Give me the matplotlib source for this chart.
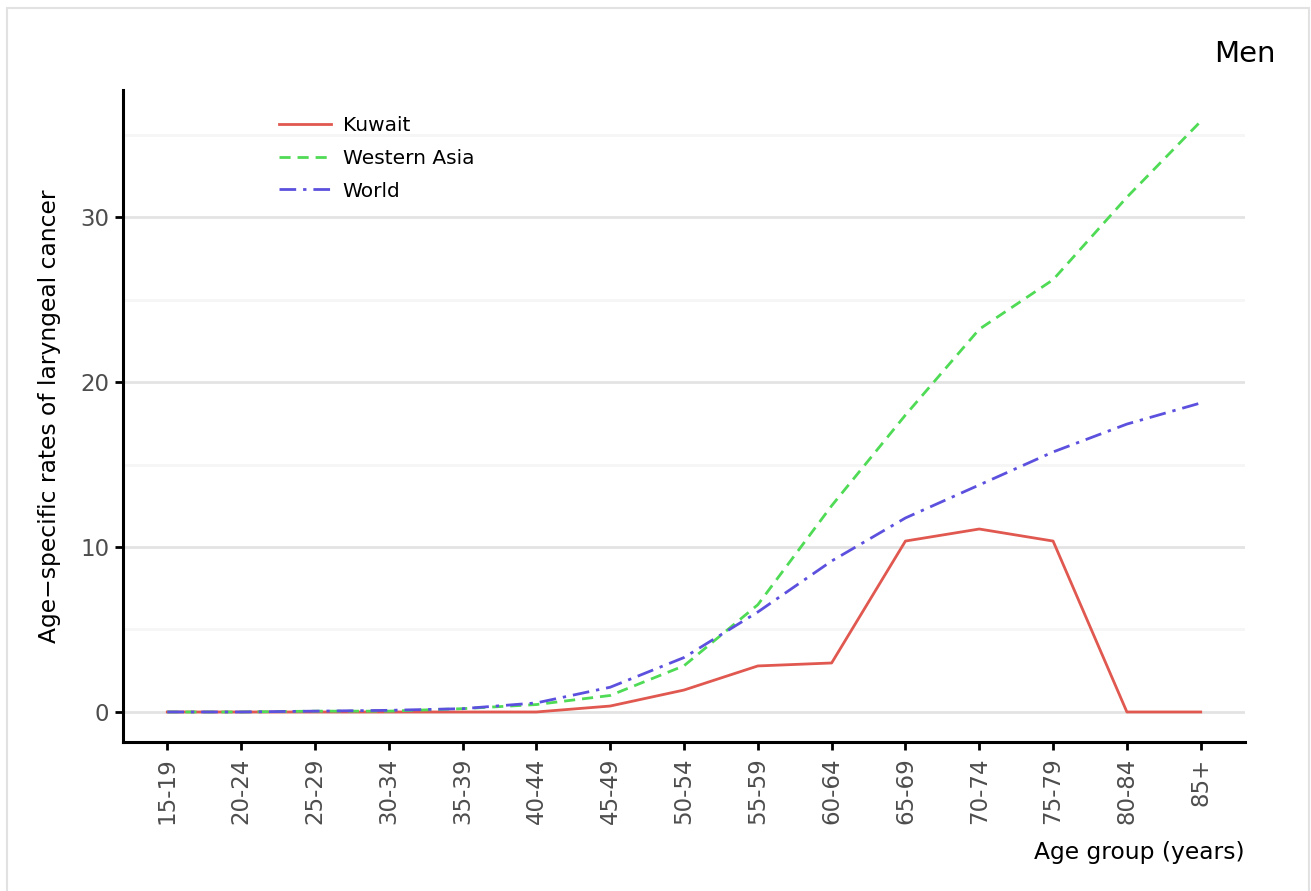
import numpy as np
import matplotlib
matplotlib.use("Agg")
import matplotlib.pyplot as plt
from matplotlib.patches import Rectangle
from matplotlib.ticker import MultipleLocator

# data
age_groups = ["15-19", "20-24", "25-29", "30-34", "35-39", "40-44", "45-49",
              "50-54", "55-59", "60-64", "65-69", "70-74", "75-79", "80-84", "85+"]
kuwait = [0, 0, 0, 0, 0, 0, 0.36, 1.33, 2.79, 2.97, 10.36, 11.09, 10.36, 0, 0]
western_asia = [0, 0, 0.05, 0.05, 0.2, 0.45, 1.0, 2.8, 6.5, 12.5, 18.0, 23.2,
                26.2, 31.2, 35.8]
world = [0, 0, 0.05, 0.1, 0.2, 0.55, 1.5, 3.3, 6.06, 9.15, 11.76, 13.76,
         15.76, 17.45, 18.73]

plt.rcParams['font.family'] = ['DejaVu Sans']

fig = plt.figure(figsize=(13.11, 8.91), dpi=100)
ax = fig.add_axes([123/1311, 149/891, (1245-123)/1311, (742-90)/891])

x = np.arange(len(age_groups))
ax.plot(x, kuwait, color="#E0584F", lw=2, ls="-", label="Kuwait")
ax.plot(x, western_asia, color="#4FDB55", lw=2, ls=(0, (4, 2.5)), label="Western Asia")
ax.plot(x, world, color="#5C50DE", lw=2, ls=(0, (6, 2.5, 1.2, 2.5)), label="World")

ax.set_xlim(-0.6, len(age_groups) - 1 + 0.6)
ax.set_ylim(-1.82, 37.7)
ax.set_xticks(x)
ax.set_xticklabels(age_groups, rotation=90, color="#4D4D4D", fontsize=16.5)
ax.set_yticks([0, 10, 20, 30])
ax.yaxis.set_minor_locator(MultipleLocator(5))
ax.tick_params(axis="y", which="major", labelsize=16.5, labelcolor="#4D4D4D",
               length=6, width=2, color="black", pad=4)
ax.tick_params(axis="y", which="minor", length=0)
ax.tick_params(axis="x", length=6, width=2, color="black", pad=5)

ax.grid(axis="y", which="major", color="#E3E3E3", lw=2)
ax.grid(axis="y", which="minor", color="#F6F6F6", lw=2)
ax.set_axisbelow(True)

for side in ["top", "right"]:
    ax.spines[side].set_visible(False)
for side in ["left", "bottom"]:
    ax.spines[side].set_linewidth(2.2)
    ax.spines[side].set_color("black")

ax.set_ylabel("Age\u2212specific rates of laryngeal cancer", fontsize=16.8, va="center")
ax.yaxis.set_label_coords((50 - 123) / 1122, 0.5)
ax.set_xlabel("Age group (years)", fontsize=16.8, ha="right", va="center")
ax.xaxis.set_label_coords(1.0, (742 - 852) / 652)

ax.legend(loc="upper left", bbox_to_anchor=(138/1122, 1 - 8/652), frameon=False,
          fontsize=14.5, handlelength=2.6, labelspacing=0.68, handletextpad=0.55)

fig.text(1276/1311, 1 - 54/891, "Men", ha="right", va="center", fontsize=21)

# light frame around the panel
fig.patches.append(Rectangle((7/1311, -0.01), (1309-7)/1311, 1 - 8/891 + 0.01,
                             transform=fig.transFigure, fill=False,
                             edgecolor="#E2E2E2", lw=1.5))

fig.savefig("out.png", dpi=100, facecolor="white")
